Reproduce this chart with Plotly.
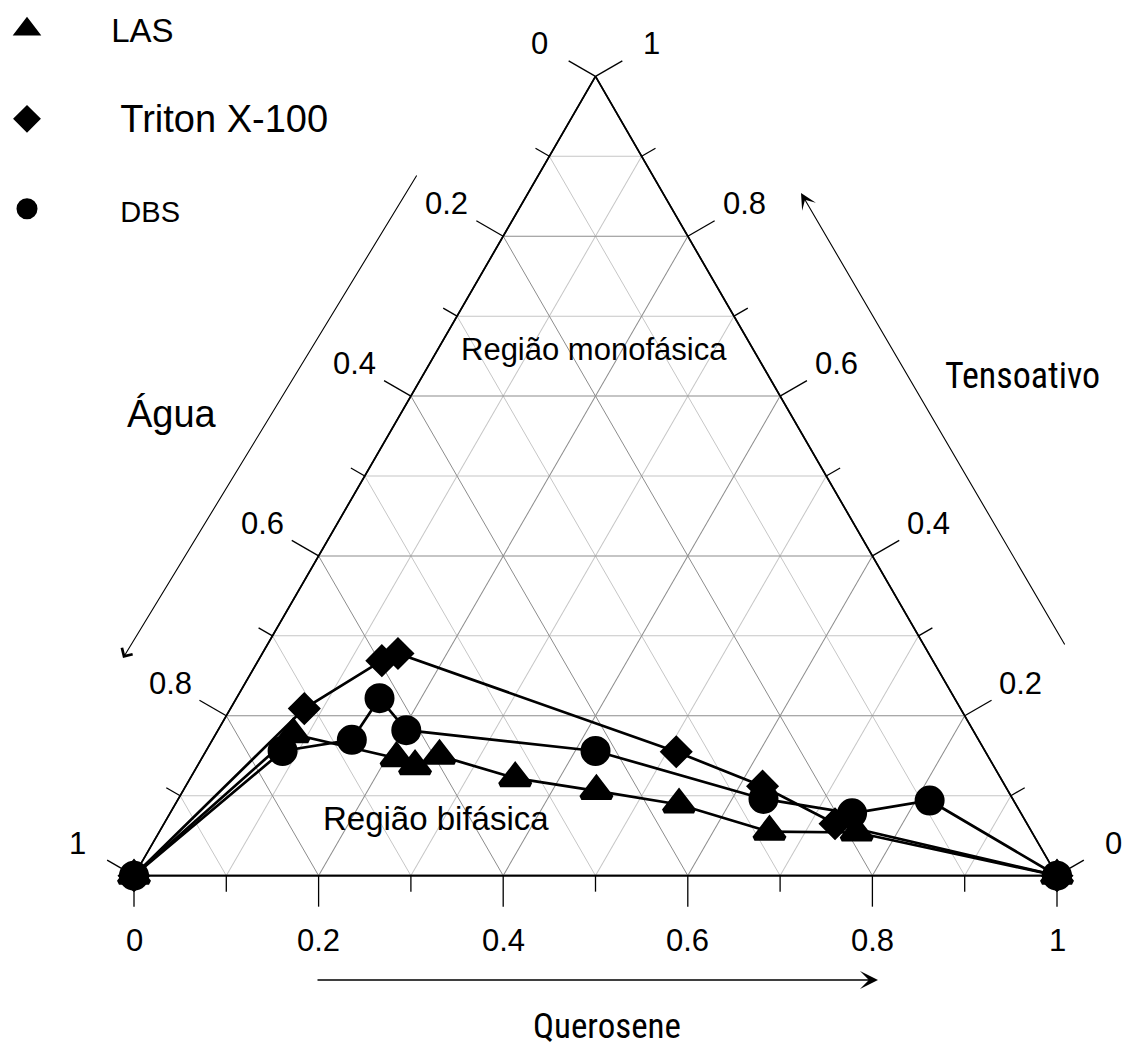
import math
import plotly.graph_objects as go

W, H = 1127, 1050

# ---------------- data (fractions: Tensoativo = a, Agua = b, Querosene = c) ----------------
las_tens = [0.0, 0.177, 0.147, 0.137, 0.150, 0.122, 0.106, 0.089, 0.055, 0.054, 0.0]
las_agua = [1.0, 0.739, 0.642, 0.627, 0.594, 0.526, 0.446, 0.365, 0.284, 0.190, 0.0]
las_quer = [0.0, 0.084, 0.211, 0.236, 0.256, 0.352, 0.448, 0.546, 0.661, 0.756, 1.0]

trx_tens = [0.0, 0.209, 0.269, 0.278, 0.155, 0.112, 0.065, 0.0]
trx_agua = [1.0, 0.711, 0.597, 0.575, 0.335, 0.263, 0.208, 0.0]
trx_quer = [0.0, 0.080, 0.134, 0.147, 0.510, 0.625, 0.727, 1.0]

dbs_tens = [0.0, 0.156, 0.170, 0.222, 0.182, 0.156, 0.096, 0.078, 0.094, 0.0]
dbs_agua = [1.0, 0.761, 0.679, 0.623, 0.614, 0.422, 0.270, 0.183, 0.091, 0.0]
dbs_quer = [0.0, 0.083, 0.151, 0.155, 0.204, 0.422, 0.634, 0.739, 0.815, 1.0]

series_names = ["LAS", "Triton X-100", "DBS"]
legend_sizes = [33, 38, 29]
legend_pad = [7, 8, 8]          # non-breaking spaces before each legend label

tick_steps = [i / 10 for i in range(11)]
major_grid = [0.2, 0.4, 0.6, 0.8]
minor_grid = [0.1, 0.3, 0.5, 0.7, 0.9]

FONT = "Liberation Sans, Arial, sans-serif"
NARROW = "Liberation Sans Narrow, Arial Narrow, Roboto Condensed, Liberation Sans, sans-serif"

series = [
    (las_tens, las_agua, las_quer, "triangle-up", 26),
    (trx_tens, trx_agua, trx_quer, "diamond", 20),
    (dbs_tens, dbs_agua, dbs_quer, "circle", 25),
]

fig = go.Figure()

# empty trace so that the background (minor-grid) ternary is drawn
fig.add_trace(go.Scatterternary(a=[], b=[], c=[], subplot="ternary",
                                showlegend=False, hoverinfo="skip"))

# connecting lines
for (a, b, c, sym, sz) in series:
    fig.add_trace(go.Scatterternary(
        a=a, b=b, c=c, mode="lines", subplot="ternary2", cliponaxis=False,
        line=dict(color="black", width=2.7), showlegend=False, hoverinfo="skip"))

# markers
for i, (a, b, c, sym, sz) in enumerate(series):
    nm = series_names[i]
    pad = "\u00a0" * legend_pad[i]
    fig.add_trace(go.Scatterternary(
        a=a, b=b, c=c, mode="markers", subplot="ternary2", cliponaxis=False,
        name=(f'<span style="font-size:33px">{pad}</span>'
              f'<span style="font-size:{legend_sizes[i]}px">{nm}</span>'),
        legendgroup=nm,
        marker=dict(symbol=sym, size=sz, color="black",
                    line=dict(color="black", width=5))))


def px(x):
    return x / W


def py(y):
    return 1 - y / H


# triangle placement (pixels)
x_left, x_right, tri_cy = 134, 1057, 476
tri_w = x_right - x_left
tri_h = tri_w * math.sqrt(3) / 2
y_bot = tri_cy + tri_h / 2
y_top = tri_cy - tri_h / 2
x_top = (x_left + x_right) / 2

dom_x = [px(x_left), px(x_right)]
dom_y = [py(tri_cy) - 0.4, py(tri_cy) + 0.4]


def tern_axis(vals, color):
    return dict(tickmode="array", tickvals=vals, ticks="", showticklabels=False,
                showgrid=True, gridcolor=color, gridwidth=1,
                showline=True, linecolor="black", linewidth=1.6,
                title=dict(text=""))


# ---------------- ticks (perpendicular to the edges) and their labels ----------------
c30, s30 = math.cos(math.radians(30)), math.sin(math.radians(30))
T = (x_top, y_top)
BL = (x_left, y_bot)
BR = (x_right, y_bot)
edges = [
    (T, BL, (-c30, -s30), False),   # Agua: 0 at top, 1 at bottom-left
    (T, BR, (c30, -s30), True),     # Tensoativo: 1 at top, 0 at bottom-right
    (BL, BR, (0.0, 1.0), False),    # Querosene: 0 at left, 1 at right
]


def fmt(v):
    v = round(v, 1)
    if v == 0:
        return "0"
    if v == 1:
        return "1"
    return f"{v:.1f}"


shapes = []
annotations = []
for (p0, p1, n, rev) in edges:
    for i, v in enumerate(tick_steps):
        x = p0[0] + v * (p1[0] - p0[0])
        y = p0[1] + v * (p1[1] - p0[1])
        ln = 31 if i % 2 == 0 else 16
        shapes.append(dict(type="line", xref="paper", yref="paper",
                           x0=px(x), y0=py(y), x1=px(x + ln * n[0]), y1=py(y + ln * n[1]),
                           line=dict(color="black", width=1.3)))
        if i % 2 == 0:
            lab = fmt(1 - v) if rev else fmt(v)
            annotations.append(dict(text=lab, x=px(x + 65 * n[0]), y=py(y + 65 * n[1]),
                                    font=dict(family=FONT, size=31)))

annotations += [
    dict(text="Água", x=px(172), y=py(414), font=dict(family=FONT, size=38)),
    dict(text="Tensoativo", x=px(1022), y=py(376), font=dict(family=NARROW, size=36)),
    dict(text="Querosene", x=px(607), y=py(1026), font=dict(family=NARROW, size=35)),
    dict(text="Região monofásica", x=px(594), y=py(349), font=dict(family=FONT, size=31)),
    dict(text="Região bifásica", x=px(436), y=py(818), font=dict(family=FONT, size=33)),
    # direction arrows
    dict(text="", x=px(123), y=py(658), ax=294, ay=-483, showarrow=True,
         arrowhead=4, arrowsize=2.2, arrowwidth=1.1, arrowcolor="black"),
    dict(text="", x=px(801), y=py(193), ax=264, ay=452, showarrow=True,
         arrowhead=3, arrowsize=2.4, arrowwidth=1.1, arrowcolor="black"),
    dict(text="", x=px(878), y=py(980), ax=-561, ay=0, showarrow=True,
         arrowhead=3, arrowsize=2.0, arrowwidth=1.5, arrowcolor="black"),
]
for an in annotations:
    an.setdefault("showarrow", False)
    an.setdefault("font", dict(family=FONT, size=30))
    an["xref"] = "paper"
    an["yref"] = "paper"
    an["xanchor"] = "center"
    an["yanchor"] = "middle"
    an["borderpad"] = 0
    an["font"]["color"] = "black"

fig.update_layout(
    width=W, height=H,
    margin=dict(l=0, r=0, t=0, b=0, autoexpand=False),
    paper_bgcolor="white",
    font=dict(family=FONT, color="black"),
    ternary=dict(domain=dict(x=dom_x, y=dom_y), sum=1, bgcolor="white",
                 aaxis=tern_axis(minor_grid, "#c6c6c6"),
                 baxis=tern_axis(minor_grid, "#c6c6c6"),
                 caxis=tern_axis(minor_grid, "#c6c6c6")),
    ternary2=dict(domain=dict(x=dom_x, y=dom_y), sum=1, bgcolor="rgba(0,0,0,0)",
                  aaxis=tern_axis(major_grid, "#8c8c8c"),
                  baxis=tern_axis(major_grid, "#8c8c8c"),
                  caxis=tern_axis(major_grid, "#8c8c8c")),
    showlegend=True,
    legend=dict(x=px(7), y=py(1), xanchor="left", yanchor="top",
                font=dict(family=FONT, size=33, color="black"),
                itemwidth=30, tracegroupgap=44, itemsizing="trace",
                bgcolor="rgba(0,0,0,0)", traceorder="grouped"),
    shapes=shapes,
    annotations=annotations,
)

fig.write_html("out.html", config={"displayModeBar": False},
               post_script="document.body.style.margin='0px';")
